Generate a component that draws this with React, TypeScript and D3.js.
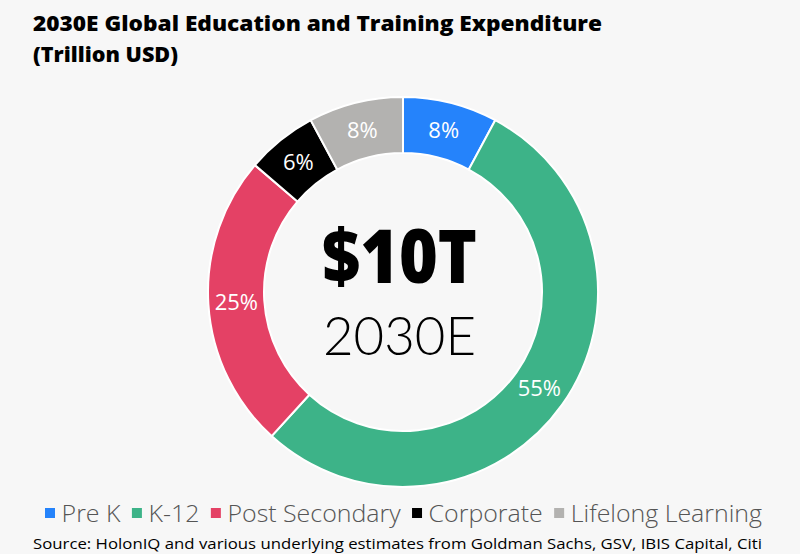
import React from "react";
import * as d3 from "d3";

const categories = ["Pre K", "K-12", "Post Secondary", "Corporate", "Lifelong Learning"];
const values = [8, 55, 25, 6, 8];
const labels = ["8%", "55%", "25%", "6%", "8%"];
const colors = ["#2583fb", "#3db388", "#e44165", "#000000", "#b3b2b0"];

const W = 800, H = 554;
const cx = 403, cy = 292, rOuter = 195, rInner = 139;

export default function App() {
  const pie = d3.pie<number>().sort(null).value((d) => d)(values);
  const arc = d3.arc<d3.PieArcDatum<number>>().innerRadius(rInner).outerRadius(rOuter);
  const fontLegend = 24;
  const legendFont = "'Open Sans', sans-serif";
  const ctx = typeof document !== "undefined" ? document.createElement("canvas").getContext("2d") : null;
  if (ctx) ctx.font = `300 ${fontLegend}px 'Open Sans', sans-serif`;
  const widths = categories.map((c) => (ctx ? ctx.measureText(c).width : c.length * 12));
  const sq = 10, gapSq = 6, gapItem = 11;
  const total = widths.reduce((a, w) => a + sq + gapSq + w, 0) + gapItem * (categories.length - 1);
  const scaleX = 717 / total;
  let x0 = 45;
  const legendPos = categories.map((c, i) => {
    const p = x0;
    x0 += (sq + gapSq + widths[i] + gapItem) * scaleX;
    return p;
  });
  return (
    <svg width={W} height={H} style={{ position: "absolute", left: 0, top: 0, background: "#f7f7f7" }}>
      <rect x={0} y={0} width={W} height={H} fill="#f7f7f7" />
      <text x={33} y={31} fontFamily="'Open Sans', sans-serif" fontWeight={800} fontSize={21.5} fill="#000"
        textLength={569} lengthAdjust="spacingAndGlyphs">
        2030E Global Education and Training Expenditure
      </text>
      <text x={33} y={62} fontFamily="'Open Sans', sans-serif" fontWeight={800} fontSize={21.5} fill="#000"
        textLength={145} lengthAdjust="spacingAndGlyphs">
        (Trillion USD)
      </text>
      <g transform={`translate(${cx},${cy})`}>
        {pie.map((d, i) => (
          <path key={i} d={arc(d) || ""} fill={colors[i]} stroke="#ffffff" strokeWidth={2} />
        ))}
        {pie.map((d, i) => {
          const [x, y] = arc.centroid(d);
          return (
            <text key={"l" + i} x={x} y={y} dy="0.36em" textAnchor="middle" fill="#fff"
              fontFamily="'Open Sans', sans-serif" fontSize={22}>
              {labels[i]}
            </text>
          );
        })}
        <text x={-81} y={-9} fontFamily="'Open Sans', sans-serif" fontWeight={800} fontSize={74} fill="#000"
          textLength={155} lengthAdjust="spacingAndGlyphs">
          $10T
        </text>
        <text x={-80} y={63} fontFamily="Lato, 'Noto Sans', sans-serif" fontWeight={300} fontSize={54} fill="#000"
          textLength={153} lengthAdjust="spacingAndGlyphs">
          2030E
        </text>
      </g>
      {categories.map((c, i) => (
        <g key={"lg" + i}>
          <rect x={legendPos[i]} y={508} width={sq} height={sq} fill={colors[i]} />
          <text x={legendPos[i] + (sq + gapSq) * scaleX} y={522} fontFamily={legendFont} fontWeight={300}
            fontSize={fontLegend} fill="#555" textLength={widths[i] * scaleX} lengthAdjust="spacingAndGlyphs">
            {c}
          </text>
        </g>
      ))}
      <text x={33} y={549} fontFamily="'Open Sans', sans-serif" fontSize={14} fill="#000"
        textLength={729} lengthAdjust="spacingAndGlyphs">
        Source: HolonIQ and various underlying estimates from Goldman Sachs, GSV, IBIS Capital, Citi
      </text>
    </svg>
  );
}
